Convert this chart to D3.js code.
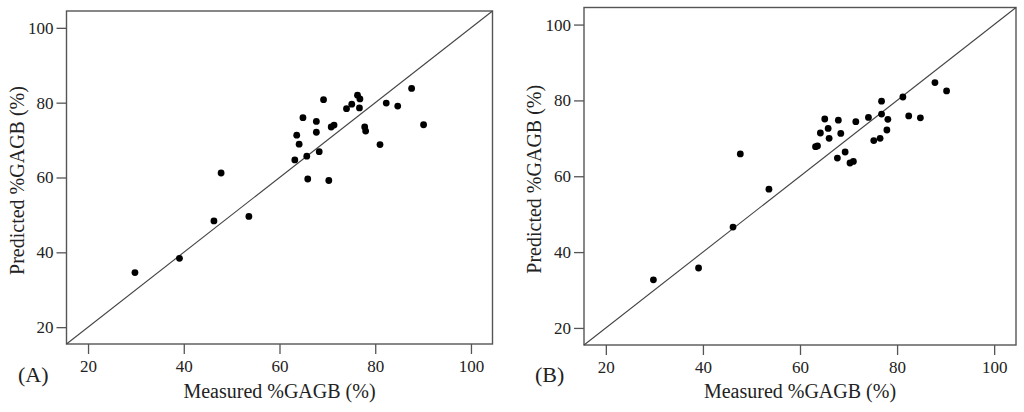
<!DOCTYPE html>
<html>
<head>
<meta charset="utf-8">
<script src="https://cdn.jsdelivr.net/npm/d3@7"></script>
<style>
  body { margin: 0; background: #fff; }
  svg { display: block; }
  svg text { font-family: "Liberation Serif", "Times New Roman", serif !important; fill: #222; }
</style>
</head>
<body>
<svg id="chart" width="1024" height="412"></svg>
<script>
// measured %GAGB, shared by both panels
const measuredA = [87.6, 90.1, 82.3, 84.7, 76.3, 76.8, 75.1, 74.0, 76.7, 69.2,
  64.9, 67.7, 67.7, 70.8, 71.4, 77.8, 78.0, 63.6, 64.1, 81.0,
  68.3, 65.7, 63.2, 47.8, 65.9, 70.3, 46.3, 53.6, 39.1, 29.8];
const predictedA = [83.8, 74.1, 79.9, 79.1, 82.0, 81.0, 79.6, 78.4, 78.6, 80.8,
  76.0, 75.0, 72.1, 73.5, 74.0, 73.5, 72.4, 71.3, 68.9, 68.8,
  66.9, 65.7, 64.7, 61.2, 59.6, 59.2, 48.4, 49.6, 38.4, 34.6];

const measuredB = [87.8, 90.2, 81.2, 76.8, 76.8, 78.1, 82.4, 84.8, 74.1, 71.5,
  65.1, 67.9, 65.8, 64.2, 68.4, 66.0, 77.9, 76.5, 75.2, 63.2,
  63.6, 69.3, 67.7, 70.3, 71.0, 47.7, 53.6, 46.2, 39.1, 29.8];
const predictedB = [84.7, 82.5, 80.9, 79.8, 76.4, 75.0, 75.9, 75.4, 75.5, 74.4,
  75.1, 74.8, 72.6, 71.4, 71.3, 70.0, 72.2, 70.0, 69.4, 67.8,
  68.0, 66.4, 64.8, 63.5, 63.9, 65.9, 56.6, 46.6, 35.8, 32.7];

const tickValues = [20, 40, 60, 80, 100];
const axisDomain = [15.5, 104.5];
const serif = "Liberation Serif";

const svg = d3.select("#chart");

function styleAxis(a) {
  a.attr("font-family", serif).attr("font-size", 17);
  a.select(".domain").remove();
  a.selectAll("line").attr("stroke", "#555").attr("stroke-width", 1.3);
  a.selectAll("text").attr("fill", "#222").attr("font-family", serif);
}

// one panel = frame, 1:1 line, dots, axes and labels
function drawPanel(box, xs, ys, tag) {
  const x = d3.scaleLinear().domain(axisDomain).range([box.left, box.right]);
  const y = d3.scaleLinear().domain(axisDomain).range([box.bottom, box.top]);
  const g = svg.append("g");

  g.append("g")
    .attr("transform", `translate(0,${box.bottom})`)
    .call(d3.axisBottom(x).tickValues(tickValues).tickSize(10).tickSizeOuter(0).tickPadding(6))
    .call(styleAxis);

  g.append("g")
    .attr("transform", `translate(${box.left},0)`)
    .call(d3.axisLeft(y).tickValues(tickValues).tickSize(10).tickSizeOuter(0).tickPadding(3))
    .call(styleAxis);

  g.append("rect")
    .attr("x", box.left)
    .attr("y", box.top)
    .attr("width", box.right - box.left)
    .attr("height", box.bottom - box.top)
    .attr("fill", "none")
    .attr("stroke", "#555")
    .attr("stroke-width", 1.4);

  // 1:1 line
  g.append("line")
    .attr("x1", x(axisDomain[0]))
    .attr("y1", y(axisDomain[0]))
    .attr("x2", x(axisDomain[1]))
    .attr("y2", y(axisDomain[1]))
    .attr("stroke", "#444")
    .attr("stroke-width", 1.1);

  const pts = xs.map((v, i) => ({ m: v, p: ys[i] }));
  g.selectAll(".dot")
    .data(pts)
    .enter()
    .append("circle")
    .attr("class", "dot")
    .attr("cx", (d) => x(d.m))
    .attr("cy", (d) => y(d.p))
    .attr("r", 3.4)
    .attr("fill", "#000");

  g.append("text")
    .attr("x", (box.left + box.right) / 2)
    .attr("y", 398)
    .attr("text-anchor", "middle")
    .attr("font-size", 20)
    .text("Measured %GAGB (%)");

  g.append("text")
    .attr("transform", `translate(${box.titleX},${(box.top + box.bottom) / 2 + 3}) rotate(-90)`)
    .attr("text-anchor", "middle")
    .attr("font-size", 20)
    .text("Predicted %GAGB (%)");

  g.append("text")
    .attr("x", box.tagX)
    .attr("y", 382)
    .attr("font-size", 22)
    .text(tag);
}

drawPanel({ left: 66.5, right: 492.5, top: 11, bottom: 344, titleX: 24, tagX: 18 },
  measuredA, predictedA, "(A)");
drawPanel({ left: 584, right: 1016, top: 7.5, bottom: 345, titleX: 541, tagX: 535 },
  measuredB, predictedB, "(B)");
</script>
</body>
</html>
